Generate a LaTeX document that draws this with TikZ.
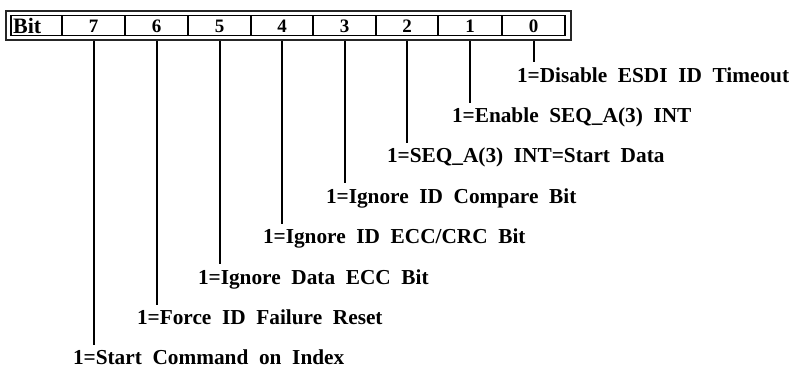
\documentclass[tikz,border=0pt]{standalone}
\usepackage{fontspec}
\setmainfont{Liberation Serif}
\usetikzlibrary{positioning}

\begin{document}
\begin{tikzpicture}[x=1pt, y=-1pt,
  cell/.style={font=\fontsize{19}{19}\selectfont\bfseries, inner sep=0pt, minimum height=20pt, minimum width=60pt},
  lbl/.style={font=\fontsize{21.3}{21.3}\selectfont\bfseries, anchor=base west, inner sep=0pt, outer xsep=0pt, outer ysep=5pt},
  tick/.style={line width=2pt}
]
  \useasboundingbox (0,0) rectangle (795,369);

  % register frame
  \draw[line width=2.8pt, black!85] (6,11) rectangle (571,40);
  \draw[line width=1.6pt] (11,15.5) rectangle (565,35.5);
  \foreach \x in {62,125,188,251,313,376,438,502}
    \draw[tick] (\x,15.5) -- (\x,35.5);

  \node[font=\fontsize{22}{22}\selectfont\bfseries, anchor=west, inner sep=0pt] (bit) at (13,25.5) {Bit};
  \node[cell] (b7) at (93.5,26) {7};
  \node[cell] (b6) at (156.5,26) {6};
  \node[cell] (b5) at (219.5,26) {5};
  \node[cell] (b4) at (282,26) {4};
  \node[cell] (b3) at (344.5,26) {3};
  \node[cell] (b2) at (407,26) {2};
  \node[cell] (b1) at (470,26) {1};
  \node[cell] (b0) at (533.5,26) {0};

  % bit descriptions
  \node[lbl] (l0) at (517,82) {1=Disable~ ESDI~ ID~ Timeout};
  \node[lbl] (l1) at (452,122.4) {1=Enable~ SEQ\_A(3)~ INT};
  \node[lbl] (l2) at (387,162.8) {1=SEQ\_A(3)~ INT=Start~ Data};
  \node[lbl] (l3) at (326,203.2) {1=Ignore~ ID~ Compare~ Bit};
  \node[lbl] (l4) at (263,243.6) {1=Ignore~ ID~ ECC/CRC~ Bit};
  \node[lbl] (l5) at (198,284) {1=Ignore~ Data~ ECC~ Bit};
  \node[lbl] (l6) at (137,324.4) {1=Force~ ID~ Failure~ Reset};
  \node[lbl] (l7) at (73,364.8) {1=Start~ Command~ on~ Index};

  \foreach \b in {0,...,7}
    \draw[tick] ([yshift=-4.5pt]b\b.south) -- (b\b.south |- l\b.north);
\end{tikzpicture}
\end{document}
